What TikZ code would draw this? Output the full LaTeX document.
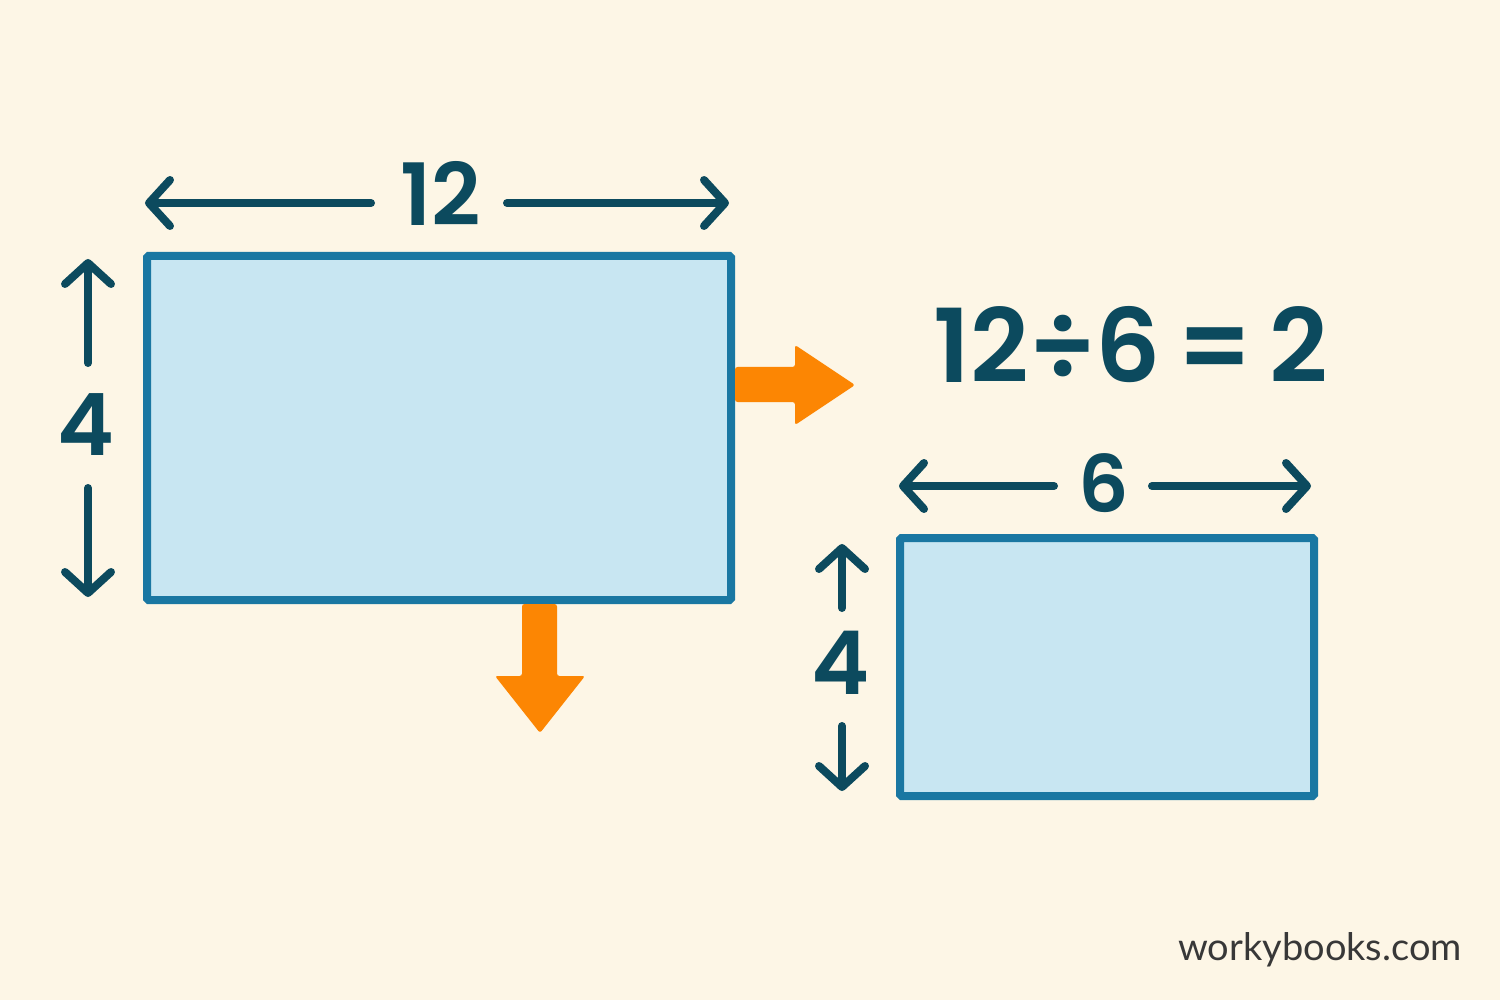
\documentclass[tikz,border=0pt]{standalone}
\usepackage{fontspec}
\usetikzlibrary{arrows.meta}
\newfontfamily\numfont{Poppins SemiBold}
\newfontfamily\webfont{Lato}
\definecolor{bgc}{HTML}{FDF6E6}
\definecolor{navy}{HTML}{0C4A5E}
\definecolor{edgeblue}{HTML}{1A77A2}
\definecolor{fillblue}{HTML}{C8E6F2}
\definecolor{orng}{HTML}{FC8603}
\tikzset{
  rectbox/.style={draw=edgeblue, fill=fillblue, line width=8pt, rounded corners=1.5pt, inner sep=0pt},
  dimline/.style={draw=navy, line width=8pt, line cap=round,
    -{Straight Barb[length=21pt,width=46pt,line cap=round,line join=round]}},
  numlbl/.style={text=navy, inner sep=0pt},
  bigarrow/.style={fill=orng, rounded corners=2.5pt},
}
\begin{document}
\begin{tikzpicture}[x=1pt,y=-1pt]
\fill[bgc] (0,0) rectangle (1500,1000);
\useasboundingbox (0,0) rectangle (1500,1000);

% rectangles
\node[rectbox, minimum width=584pt, minimum height=344pt] (big) at (439,428) {};
\node[rectbox, minimum width=414pt, minimum height=258pt] (small) at (1107,667) {};

% orange arrows
\fill[bigarrow] (735,367) -- (795,367) -- (795,345) -- (855,385) -- (795,425) -- (795,402) -- (735,402) -- cycle;
\fill[bigarrow] (522,604) -- (557,604) -- (557,676) -- (585,676) -- (540,733) -- (495,676) -- (522,676) -- cycle;

% labels
\node[numlbl, font=\numfont\fontsize{86}{90}\selectfont] (t12) at (441,193) {12};
\node[numlbl, font=\numfont\fontsize{86}{90}\selectfont] (l4) at (86,425) {4};
\node[numlbl, font=\numfont\fontsize{102}{106}\selectfont] (eq) at (1131,345) {12÷6\,=\,2};
\node[numlbl, font=\numfont\fontsize{79}{82}\selectfont] (t6) at (1104,483) {6};
\node[numlbl, font=\numfont\fontsize{88}{90}\selectfont] (r4) at (841,663) {4};
\node[text=black!78, inner sep=0pt, anchor=base east, font=\webfont\fontsize{38}{40}\selectfont] (web) at (1462,960) {workybooks.com};

% dimension arrows, big rectangle
\coordinate (a12l) at (371,203);
\coordinate (a12lt) at (145,203);
\coordinate (a12r) at (507,203);
\coordinate (a12rt) at (729,203);
\draw[dimline] (a12l) -- (a12lt);
\draw[dimline] (a12r) -- (a12rt);
\coordinate (a4u) at (88,363);
\coordinate (a4ut) at (88,259);
\coordinate (a4d) at (88,488);
\coordinate (a4dt) at (88,597);
\draw[dimline] (a4u) -- (a4ut);
\draw[dimline] (a4d) -- (a4dt);

% dimension arrows, small rectangle
\coordinate (a6l) at (1054,486);
\coordinate (a6lt) at (899,486);
\coordinate (a6r) at (1152,486);
\coordinate (a6rt) at (1311,486);
\draw[dimline] (a6l) -- (a6lt);
\draw[dimline] (a6r) -- (a6rt);
\coordinate (b4u) at (842,608);
\coordinate (b4ut) at (842,544);
\coordinate (b4d) at (842,726);
\coordinate (b4dt) at (842,791);
\draw[dimline] (b4u) -- (b4ut);
\draw[dimline] (b4d) -- (b4dt);
\end{tikzpicture}
\end{document}
